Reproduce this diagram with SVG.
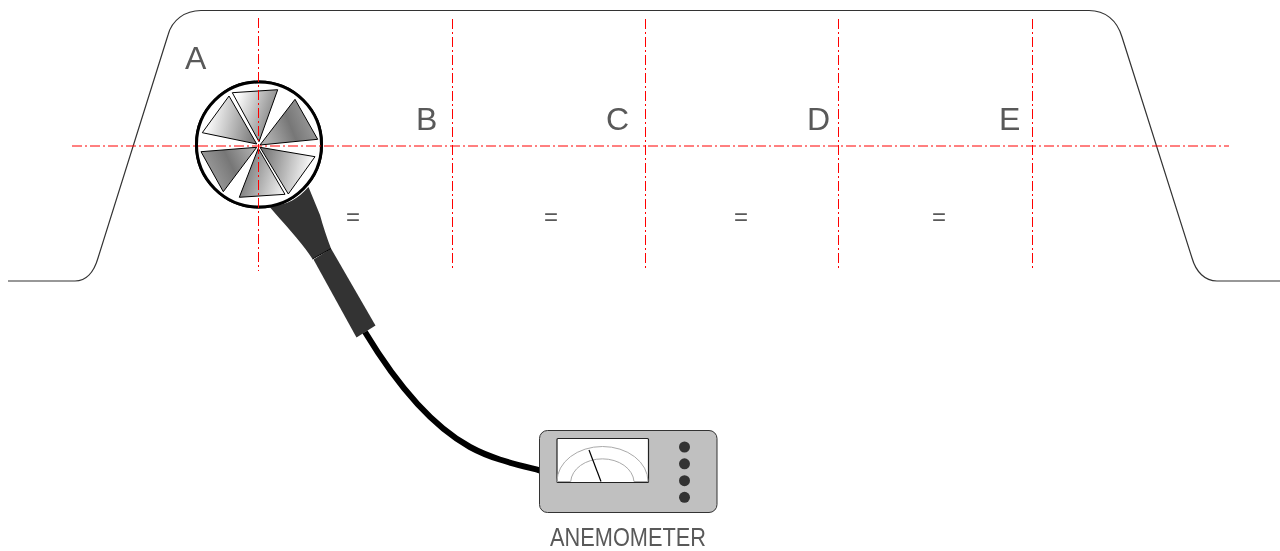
<svg xmlns="http://www.w3.org/2000/svg" width="1280" height="551" viewBox="0 0 1280 551">
<style>
.cl{stroke:#ff0000;stroke-width:1;stroke-dasharray:10 3 2 3;fill:none}
.t{font-family:"Liberation Sans",Arial,sans-serif;fill:#595959}
.big{font-size:32px}
.eq{font-size:24px;text-anchor:middle}
.blade{stroke:#000;stroke-width:1}
.dot{fill:#333}
</style>
<defs>
<linearGradient id="g1" gradientUnits="userSpaceOnUse" x1="234" y1="105" x2="272" y2="118"><stop offset="0" stop-color="#fff"/><stop offset="1" stop-color="#8a8a8a"/></linearGradient>
<linearGradient id="g2" gradientUnits="userSpaceOnUse" x1="265" y1="135" x2="315" y2="115"><stop offset="0" stop-color="#b0b0b0"/><stop offset=".5" stop-color="#777"/><stop offset="1" stop-color="#a0a0a0"/></linearGradient>
<linearGradient id="g3" gradientUnits="userSpaceOnUse" x1="262" y1="160" x2="312" y2="170"><stop offset="0" stop-color="#777"/><stop offset="1" stop-color="#fff"/></linearGradient>
<linearGradient id="g4" gradientUnits="userSpaceOnUse" x1="243" y1="172" x2="285" y2="185"><stop offset="0" stop-color="#7a7a7a"/><stop offset="1" stop-color="#f0f0f0"/></linearGradient>
<linearGradient id="g5" gradientUnits="userSpaceOnUse" x1="205" y1="175" x2="255" y2="150"><stop offset="0" stop-color="#a0a0a0"/><stop offset=".5" stop-color="#777"/><stop offset="1" stop-color="#b0b0b0"/></linearGradient>
<linearGradient id="g6" gradientUnits="userSpaceOnUse" x1="208" y1="115" x2="255" y2="125"><stop offset="0" stop-color="#fff"/><stop offset="1" stop-color="#808080"/></linearGradient>
<filter id="gray" x="0" y="0" width="1" height="1" color-interpolation-filters="sRGB"><feOffset dx="0" dy="0"/></filter>
</defs>
<rect width="1280" height="551" fill="#fff"/>
<g id="duct"><path d="M8 281H75C86 281 94 272 98 258L168 35C172 20 185 10.500 201 10.500H1089C1105 10.500 1117 20 1122 37L1192 258C1196 272 1205 281 1217 281H1280" fill="none" stroke="#333" stroke-width="1.200"/></g>
<g id="probe">
<circle cx="259" cy="144.500" r="62.500" fill="#fff" stroke="#000" stroke-width="3"/>
<path d="M268 205C284 207 297 200 308.500 187L320 215C323 226 327 238 331 248.500L312.500 259C300 240 286 226 268 205Z" fill="#333"/>
<path d="M313.500 259.500L331 248.500L375.500 325.500L356.500 337.500Z" fill="#333"/>
<path d="M312.500 259L331 248.500" stroke="#000" stroke-width="1" fill="none"/>
<circle cx="259" cy="144.500" r="62.500" fill="#fff" stroke="#000" stroke-width="3"/>
<path d="M232.300 92.700L277.700 89.700L259 141.700Z" class="blade" fill="url(#g1)"/>
<path d="M295 99.300L317.700 139.300L260 145Z" class="blade" fill="url(#g2)"/>
<path d="M315 156.700L288.300 194L260 147.300Z" class="blade" fill="url(#g3)"/>
<path d="M285 194.300L239.300 197.300L258.300 148.300Z" class="blade" fill="url(#g4)"/>
<path d="M223.300 191.700L201 151.700L256.700 147.300Z" class="blade" fill="url(#g5)"/>
<path d="M202.300 132.700L229 96L256.700 144Z" class="blade" fill="url(#g6)"/>
</g>
<g id="connectors">
<path d="M365 332C394 380 430 425 470 447C492 459 515 464 540 470.500" fill="none" stroke="#000" stroke-width="6"/>
</g>
<g id="centerlines">
<path class="cl" d="M72 146H1229"/>
<path class="cl" d="M258.500 18V271"/>
<path class="cl" d="M452.500 19V268"/>
<path class="cl" d="M645.500 19V268"/>
<path class="cl" d="M838.500 19V268"/>
<path class="cl" d="M1032.500 19V268"/>
</g>
<g id="anemometer">
<rect x="539.500" y="430.500" width="177.500" height="82" rx="8" fill="#c0c0c0" stroke="#333" stroke-width="1"/>
<rect x="557" y="438.500" width="91.500" height="44" rx="1" fill="#fff" stroke="#222" stroke-width="1.200"/>
<path d="M557 481.500A45.500 35 0 0 1 648 481.500M570.700 481.500A31.700 24 0 0 1 634 481.500M557 481.500H570.700M634 481.500H648" fill="none" stroke="#aaa" stroke-width="1"/>
<path d="M589 450L601 481.500" stroke="#000" stroke-width="1.200"/>
<circle class="dot" cx="684.500" cy="447" r="5.500"/>
<circle class="dot" cx="684.500" cy="463.800" r="5.500"/>
<circle class="dot" cx="684.500" cy="480.700" r="5.500"/>
<circle class="dot" cx="684.500" cy="497.300" r="5.500"/>
</g>
<g id="labels" filter="url(#gray)">
<text class="t big" x="185" y="69">A</text>
<text class="t big" x="416" y="130">B</text>
<text class="t big" x="606" y="130">C</text>
<text class="t big" x="807" y="130">D</text>
<text class="t big" x="999" y="130">E</text>
<text class="t eq" x="353" y="225">=</text>
<text class="t eq" x="551" y="225">=</text>
<text class="t eq" x="741" y="225">=</text>
<text class="t eq" x="939" y="225">=</text>
<text class="t" x="550" y="546" font-size="25" textLength="156" lengthAdjust="spacingAndGlyphs">ANEMOMETER</text>
</g>
</svg>
